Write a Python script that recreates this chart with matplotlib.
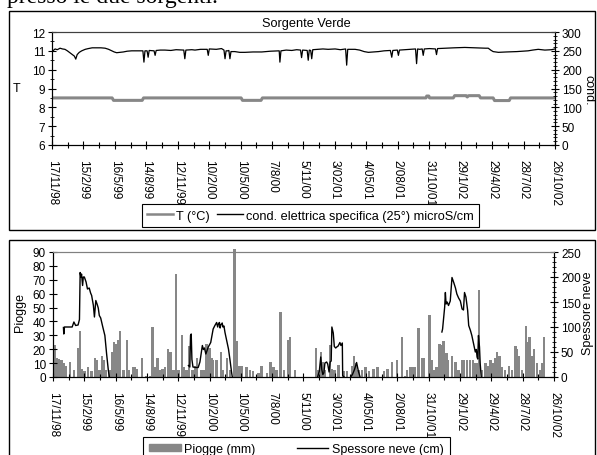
import datetime as dt
import numpy as np
import pandas as pd
import matplotlib
matplotlib.use("Agg")
import matplotlib.pyplot as plt
from matplotlib.patches import Rectangle, Patch
from matplotlib.lines import Line2D
from matplotlib.ticker import MultipleLocator, FixedLocator

plt.rcParams['font.family'] = ['Liberation Sans', 'DejaVu Sans']

# x axis labels (dd/mm/yy)
tick_labels = ["17/11/98", "15/2/99", "16/5/99", "14/8/99", "12/11/99", "10/2/00",
               "10/5/00", "7/8/00", "5/11/00", "3/02/01", "4/05/01", "2/08/01",
               "31/10/01", "29/1/02", "29/4/02", "28/7/02", "26/10/02"]

# --- Sorgente Verde: temperature (°C), days from 17/11/98
t_days = [0, 172, 176, 258, 262, 541, 545, 598, 602, 1070, 1072, 1078, 1080,
          1148, 1152, 1185, 1188, 1192, 1222, 1226, 1262, 1266, 1308, 1312, 1439]
t_vals = [8.5, 8.5, 8.37, 8.37, 8.5, 8.5, 8.37, 8.37, 8.5, 8.5, 8.6, 8.6, 8.5,
          8.5, 8.62, 8.62, 8.55, 8.62, 8.62, 8.5, 8.5, 8.36, 8.36, 8.5, 8.5]

# --- conductivity (microS/cm)
cond_days = [0, 5, 9, 15, 23, 30, 37, 44, 51, 58, 64, 68, 72, 78, 85, 95, 104, 115,
             123, 140, 152, 162, 171, 178, 185, 195, 204, 215, 228, 245, 256, 260,
             263, 266, 272, 275, 278, 292, 295, 298, 310, 323, 340, 355, 377, 380,
             383, 400, 409, 425, 444, 447, 450, 470, 485, 492, 495, 498, 503, 506,
             509, 512, 523, 537, 552, 575, 600, 625, 647, 650, 652, 655, 670, 686,
             700, 711, 714, 717, 730, 733, 736, 740, 743, 746, 760, 775, 790, 810,
             825, 840, 843, 846, 867, 880, 893, 905, 920, 934, 950, 968, 972, 975,
             988, 991, 994, 1010, 1029, 1040, 1043, 1046, 1052, 1059, 1062, 1065,
             1080, 1097, 1100, 1103, 1124, 1150, 1181, 1210, 1240, 1248, 1255, 1262,
             1277, 1300, 1330, 1362, 1375, 1391, 1410, 1429, 1439]
cond_vals = [247, 252, 255, 253, 257, 255, 254, 250, 245, 240, 236, 228, 240, 246,
             250, 254, 256, 258, 258, 258, 257, 254, 250, 247, 245, 246, 247, 249,
             250, 250, 250, 250, 220, 250, 250, 233, 251, 250, 238, 251, 252, 252,
             251, 253, 252, 229, 252, 253, 252, 254, 254, 238, 255, 254, 256, 252,
             229, 250, 250, 251, 229, 248, 248, 246, 246, 247, 247, 249, 250, 250,
             220, 250, 252, 251, 253, 252, 232, 252, 251, 225, 252, 251, 229, 253,
             254, 255, 254, 255, 253, 255, 212, 254, 254, 252, 248, 246, 247, 248,
             250, 251, 233, 251, 252, 238, 252, 253, 254, 255, 216, 255, 254, 255,
             238, 255, 256, 255, 240, 256, 257, 258, 259, 258, 257, 257, 252, 248,
             246, 247, 248, 250, 252, 254, 252, 253, 255]

# --- rainfall bars (mm)
rain_days = [6, 12, 18, 25, 30, 37, 49, 60, 73, 78, 84, 90, 101, 111, 121, 125, 133,
             140, 145, 152, 162, 169, 175, 183, 188, 192, 202, 212, 219, 231, 236,
             242, 255, 269, 279, 286, 293, 300, 307, 315, 322, 331, 338, 346, 353,
             360, 370, 376, 384, 391, 401, 408, 414, 427, 434, 441, 449, 456, 460,
             470, 482, 489, 499, 508, 521, 527, 535, 542, 556, 566, 575, 590, 599,
             614, 625, 633, 642, 654, 663, 676, 681, 695,
             756, 763, 770, 775, 782, 795, 801, 808, 820, 835, 844, 859, 865, 871,
             878, 887, 897, 907, 921, 932, 950, 961, 974, 988, 1002, 1012, 1017,
             1026, 1031, 1038, 1050, 1060, 1066, 1082, 1088, 1093, 1101, 1110, 1117,
             1122, 1130, 1134, 1146, 1156, 1165, 1175, 1181, 1189, 1197, 1206, 1213,
             1218, 1223, 1232, 1242, 1248, 1256, 1264, 1270, 1275, 1283, 1290, 1299,
             1309, 1318, 1328, 1333, 1337, 1347, 1359, 1363, 1369, 1376, 1382, 1390,
             1398, 1404, 1411]
rain_vals = [23, 14, 13, 12, 10, 8, 11, 5, 21, 33, 6, 4, 7, 4, 14, 12, 5, 15, 12, 5,
             5, 18, 25, 24, 27, 33, 5, 27, 5, 7, 7, 6, 14, 1, 1, 36, 7, 14, 5, 6, 7,
             20, 18, 5, 74, 5, 30, 7, 5, 22, 5, 8, 14, 5, 5, 24, 21, 14, 12, 12, 18,
             5, 14, 5, 92, 26, 8, 8, 7, 5, 4, 3, 8, 3, 11, 7, 5, 47, 5, 27, 29, 5,
             21, 5, 18, 11, 5, 23, 6, 5, 9, 4, 4, 8, 15, 10, 5, 5, 7, 4, 6, 7, 4, 6,
             11, 12, 29, 1, 5, 7, 7, 7, 35, 14, 14, 45, 12, 5, 7, 24, 23, 26, 17, 12,
             15, 11, 5, 12, 12, 12, 12, 12, 10, 10, 63, 5, 10, 8, 12, 10, 14, 18, 15,
             7, 5, 8, 5, 22, 20, 15, 5, 37, 25, 29, 15, 20, 10, 5, 10, 29]

# --- snow depth (cm), NaN separates the winters
snow_days = [30, 31, 33, 40, 50, 55, 60, 65, 72, 76, 78, 80, 82, 85, 87, 90, 95, 99,
             104, 108, 111, 116, 119, 123, 127, 130, 133, 137, 143, 149, 154, 159, 162,
             163,
             389, 393, 395, 397, 399, 402, 410, 417, 422, 429, 432, 435, 439, 446, 453,
             458, 460, 465, 470, 473, 475, 478, 480, 482, 486, 488, 491, 494, 499, 504,
             508, 513, 515,
             516,
             760, 765, 769, 772, 775, 778, 781, 786, 789, 793, 796, 799, 801, 805, 808,
             812, 815, 819, 824, 827, 831, 832, 836,
             837,
             855, 860, 866, 872, 877, 882,
             883,
             1117, 1119, 1122, 1125, 1127, 1129, 1132, 1136, 1141, 1146, 1151, 1156,
             1160, 1165, 1170, 1175, 1179, 1182, 1186, 1191, 1194, 1199, 1203, 1208,
             1213, 1216, 1218, 1220, 1222, 1225, 1227, 1230]
snow_vals = [99, 86, 100, 100, 100, 100, 110, 103, 104, 115, 209, 200, 206, 183, 200,
             200, 190, 176, 178, 168, 163, 143, 120, 153, 145, 138, 123, 118, 100, 83,
             46, 13, 0,
             np.nan,
             23, 20, 83, 86, 35, 20, 19, 19, 30, 63, 55, 58, 46, 60, 69, 88, 96, 103,
             109, 100, 106, 109, 98, 104, 108, 100, 102, 89, 73, 56, 36, 9, 0,
             np.nan,
             0, 12, 40, 15, 5, 8, 28, 30, 26, 10, 30, 32, 100, 88, 61, 58, 60, 62, 69,
             63, 68, 3, 0,
             np.nan,
             0, 5, 15, 29, 12, 0,
             np.nan,
             90, 96, 119, 140, 169, 146, 150, 143, 152, 199, 189, 178, 166, 158, 152,
             136, 134, 169, 160, 133, 103, 93, 83, 66, 50, 55, 40, 36, 83, 60, 27, 0]

START = pd.Timestamp("1998-11-17")
GREY = '#878787'


def to_dates(days):
    return START + pd.to_timedelta(np.asarray(days, dtype=float), unit="D")


def style_xaxis(ax, ticks, minor):
    ax.set_xlim(ticks[0], ticks[-1])
    ax.set_xticks(ticks)
    ax.set_xticklabels(tick_labels, rotation=-90, fontsize=8.5, va='top', ha='center')
    ax.xaxis.set_minor_locator(FixedLocator(matplotlib.dates.date2num(minor)))
    ax.tick_params(axis='x', which='major', direction='inout', length=6, width=0.8, pad=7)
    ax.tick_params(axis='x', which='minor', direction='inout', length=4, width=0.8)


def main():
    fig = plt.figure(figsize=(5.97, 4.56), dpi=100)
    W, H = 597.0, 456.0

    ticks = [pd.Timestamp(dt.datetime.strptime(s, "%d/%m/%y")) for s in tick_labels]
    minor = [ticks[i] + (ticks[i + 1] - ticks[i]) / 2 for i in range(len(ticks) - 1)]

    # heading of the page, cut off above the first panel
    fig.text(7 / W, 1 - 2.5 / H, "presso le due sorgenti.", family='Liberation Serif',
             fontsize=17, va='baseline', ha='left')

    # panel frames
    fig.patches.append(Rectangle((9 / W, 1 - 231 / H), 586 / W, 219 / H, fill=False,
                                 lw=1.0, ec='black', transform=fig.transFigure))
    fig.patches.append(Rectangle((9 / W, -0.05), 586 / W, 1 - 241 / H + 0.05, fill=False,
                                 lw=1.0, ec='black', transform=fig.transFigure))

    # ---- top panel
    ax1 = fig.add_axes([52 / W, 1 - 146 / H, 503 / W, 113 / H])
    ax1r = ax1.twinx()
    ax1.plot(to_dates(t_days), t_vals, color=GREY, lw=2.2)
    ax1r.plot(to_dates(cond_days), cond_vals, color='black', lw=0.9)
    ax1.set_ylim(6, 12)
    ax1.yaxis.set_major_locator(MultipleLocator(1))
    ax1.yaxis.set_minor_locator(MultipleLocator(0.5))
    ax1r.set_ylim(0, 300)
    ax1r.yaxis.set_major_locator(MultipleLocator(50))
    ax1r.yaxis.set_minor_locator(MultipleLocator(10))
    style_xaxis(ax1, ticks, minor)
    for a in (ax1, ax1r):
        a.tick_params(axis='y', which='major', direction='inout', length=6, width=0.8,
                      labelsize=8.5, pad=2)
        a.tick_params(axis='y', which='minor', direction='inout', length=3, width=0.6)
        a.spines['top'].set_color('#404040')
    fig.text(16.7 / W, 1 - 89 / H, "T", fontsize=9, ha='center', va='center')
    fig.text(589 / W, 1 - 90 / H, "cond.", fontsize=9, ha='center', va='center',
             rotation=-90)
    fig.text(306 / W, 1 - 24 / H, "Sorgente Verde", fontsize=9.2, ha='center', va='center')

    handles = [Line2D([], [], color=GREY, lw=1.8), Line2D([], [], color='black', lw=1.0)]
    leg = ax1.legend(handles, ["T (°C)", "cond. elettrica specifica (25°) microS/cm"],
                     loc='upper left', bbox_to_anchor=(141.7 / W, 1 - 205.5 / H),
                     bbox_transform=fig.transFigure, ncol=2, fontsize=9.2, frameon=True,
                     fancybox=False, edgecolor='black', framealpha=1, handlelength=2.0,
                     handletextpad=0.25, columnspacing=0.6, borderpad=0.42,
                     borderaxespad=0)
    leg.get_frame().set_linewidth(0.8)

    # ---- bottom panel
    ax2 = fig.add_axes([53 / W, 1 - 378 / H, 501 / W, 125 / H])
    ax2r = ax2.twinx()
    ax2.bar(to_dates(rain_days), rain_vals, width=7, color=GREY, lw=0, clip_on=False)
    ax2r.plot(to_dates(snow_days), snow_vals, color='black', lw=1.0)
    ax2.set_ylim(0, 90)
    ax2.yaxis.set_major_locator(MultipleLocator(10))
    ax2r.set_ylim(0, 250)
    ax2r.yaxis.set_major_locator(MultipleLocator(50))
    ax2r.yaxis.set_minor_locator(MultipleLocator(10))
    style_xaxis(ax2, ticks, minor)
    for a in (ax2, ax2r):
        a.tick_params(axis='y', which='major', direction='inout', length=6, width=0.8,
                      labelsize=8.5, pad=2)
        a.tick_params(axis='y', which='minor', direction='inout', length=3, width=0.6)
        a.spines['top'].set_color('#808080')
    fig.text(20 / W, 1 - 313 / H, "Piogge", fontsize=9, ha='center', va='center',
             rotation=90)
    fig.text(588 / W, 1 - 313 / H, "Spessore neve", fontsize=9, ha='center',
             va='center', rotation=90)

    handles = [Patch(color=GREY), Line2D([], [], color='black', lw=1.0)]
    leg = ax2.legend(handles, ["Piogge (mm)", "Spessore neve (cm)"],
                     loc='upper left', bbox_to_anchor=(143 / W, 1 - 438 / H),
                     bbox_transform=fig.transFigure, ncol=2, fontsize=9, frameon=True,
                     fancybox=False, edgecolor='black', framealpha=1, handlelength=2.5,
                     handleheight=0.5, handletextpad=0.3, columnspacing=3.3,
                     borderpad=0.5, borderaxespad=0)
    leg.get_frame().set_linewidth(0.8)

    fig.savefig("out.png", dpi=100)


if __name__ == "__main__":
    main()
